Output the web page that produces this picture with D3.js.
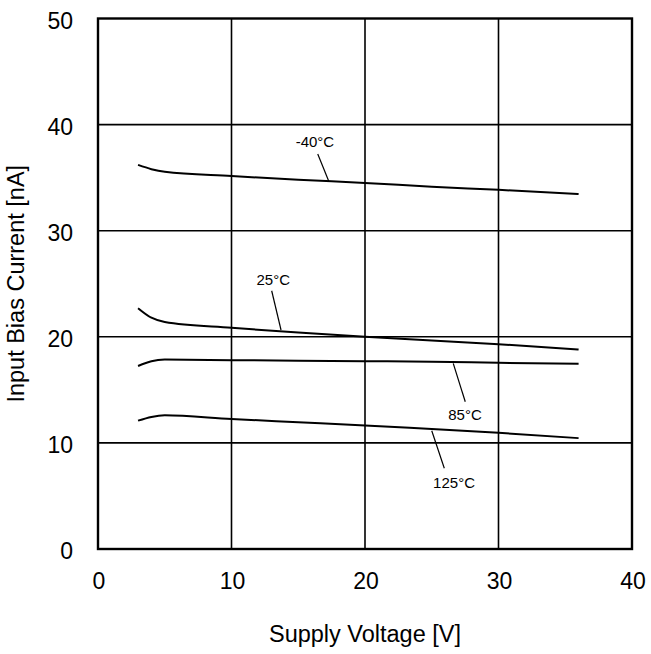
<!DOCTYPE html>
<html><head><meta charset="utf-8">
<script src="https://cdn.jsdelivr.net/npm/d3@7"></script>
<style>body{margin:0;background:#fff}svg{display:block}text{font-family:"Liberation Sans",Arial,sans-serif;fill:#000}</style>
</head><body>
<script>
const voltages = [3, 4, 5, 10, 15, 20, 25, 30, 36];
const seriesM40 = [36.2, 35.8, 35.55, 35.15, 34.8, 34.5, 34.15, 33.85, 33.45];
const series25 = [22.7, 21.8, 21.4, 20.85, 20.4, 20.0, 19.65, 19.3, 18.8];
const series85 = [17.25, 17.7, 17.85, 17.8, 17.75, 17.7, 17.65, 17.55, 17.45];
const series125 = [12.1, 12.45, 12.6, 12.25, 11.95, 11.65, 11.3, 10.95, 10.45];
const xTicks = [0, 10, 20, 30, 40];
const yTicks = [0, 10, 20, 30, 40, 50];
const labels = ["-40°C", "25°C", "85°C", "125°C"];
// annotation anchors in data units: [x1,y1,x2,y2,textX,textY]
const annots = [
  [16.46, 37.23, 17.28, 34.68, 16.25, 37.85],
  [13.01, 24.34, 13.71, 20.64, 13.13, 24.88],
  [26.61, 17.50, 27.51, 13.88, 27.49, 12.16],
  [25.0, 11.15, 25.94, 7.61, 26.67, 5.72]
];

const W = 651, H = 654;
const m = {l: 98, r: 19, t: 18.5, b: 105};
const svg = d3.select("body").append("svg").attr("width", W).attr("height", H);
const x = d3.scaleLinear().domain([0, 40]).range([m.l, W - m.r]);
const y = d3.scaleLinear().domain([0, 50]).range([H - m.b, m.t]);

// grid
svg.append("g").selectAll("line").data(xTicks.slice(1, -1)).join("line")
  .attr("x1", d => x(d)).attr("x2", d => x(d)).attr("y1", y(0)).attr("y2", y(50))
  .attr("stroke", "#000").attr("stroke-width", 1.6);
svg.append("g").selectAll("line").data(yTicks.slice(1, -1)).join("line")
  .attr("y1", d => y(d)).attr("y2", d => y(d)).attr("x1", x(0)).attr("x2", x(40))
  .attr("stroke", "#000").attr("stroke-width", 1.6);
svg.append("rect").attr("x", x(0)).attr("y", y(50)).attr("width", x(40) - x(0)).attr("height", y(0) - y(50))
  .attr("fill", "none").attr("stroke", "#000").attr("stroke-width", 2.4);

// tick labels
svg.append("g").selectAll("text").data(xTicks).join("text")
  .attr("x", d => x(d) + 1).attr("y", y(0) + 40).attr("text-anchor", "middle")
  .attr("font-size", 23).text(d => d);
svg.append("g").selectAll("text").data(yTicks).join("text")
  .attr("x", x(0) - 25).attr("y", d => y(d) + 10).attr("text-anchor", "end")
  .attr("font-size", 23).text(d => d);

svg.append("text").attr("x", (x(0) + x(40)) / 2).attr("y", 642).attr("text-anchor", "middle")
  .attr("font-size", 23.5).text("Supply Voltage [V]");
svg.append("text").attr("transform", `translate(24,${(y(0) + y(50)) / 2}) rotate(-90)`)
  .attr("text-anchor", "middle").attr("font-size", 23.5).text("Input Bias Current [nA]");

// curves
const line = d3.line().x((d, i) => x(voltages[i])).y(d => y(d)).curve(d3.curveMonotoneX);
[seriesM40, series25, series85, series125].forEach(s => {
  svg.append("path").attr("d", line(s)).attr("fill", "none").attr("stroke", "#000").attr("stroke-width", 2);
});

// annotations
annots.forEach((a, i) => {
  svg.append("line").attr("x1", x(a[0])).attr("y1", y(a[1])).attr("x2", x(a[2])).attr("y2", y(a[3]))
    .attr("stroke", "#000").attr("stroke-width", 1.2);
  svg.append("text").attr("x", x(a[4])).attr("y", y(a[5])).attr("text-anchor", "middle")
    .attr("font-size", 15).text(labels[i]);
});
</script>
</body></html>
